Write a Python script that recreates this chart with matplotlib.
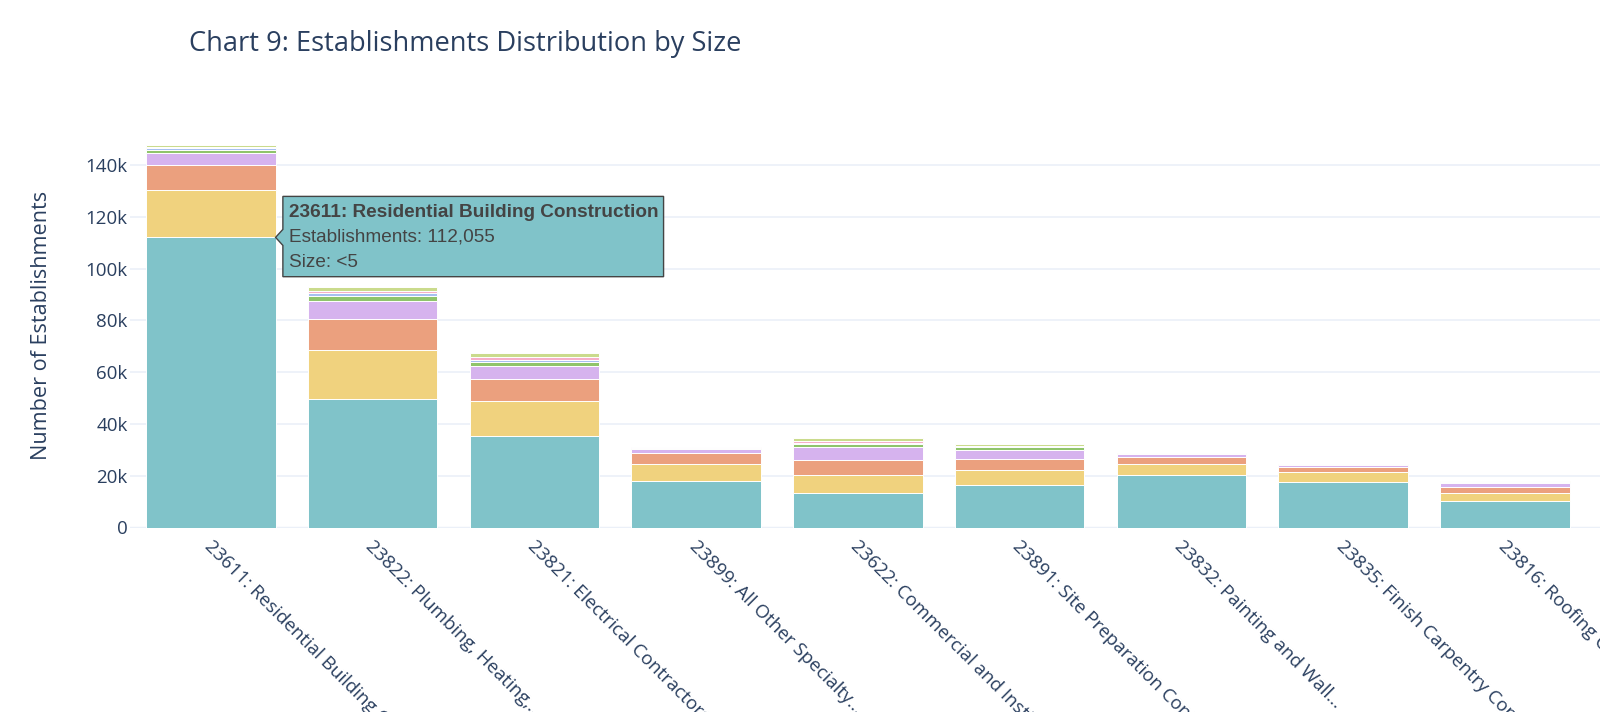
import numpy as np
import matplotlib.pyplot as plt
from matplotlib.patches import Polygon
from matplotlib.transforms import IdentityTransform, ScaledTranslation

# Dados (milhares de estabelecimentos por classe de tamanho)
industries = [
    "23611: Residential Building Construction",
    "23822: Plumbing, Heating,...",
    "23821: Electrical Contractors...",
    "23899: All Other Specialty...",
    "23622: Commercial and Institutional...",
    "23891: Site Preparation Contractors",
    "23832: Painting and Wall...",
    "23835: Finish Carpentry Contractors",
    "23816: Roofing Contractors",
]
sizes = ["<5", "5-9", "10-19", "20-49", "50-99", "100-249", "250-499", "500+"]

size_lt5 = [112.055, 49.5, 35.4, 18.1, 13.3, 16.4, 20.1, 17.4, 10.2]
size_5_9 = [18.4, 19.2, 13.5, 6.4, 7.1, 5.9, 4.6, 4.0, 3.0]
size_10_19 = [9.6, 11.9, 8.3, 4.1, 5.8, 4.3, 2.6, 2.0, 2.6]
size_20_49 = [4.5, 7.0, 5.2, 1.8, 4.8, 3.5, 0.9, 0.9, 1.2]
size_50_99 = [1.3, 2.0, 1.6, 0.3, 1.2, 0.9, 0.15, 0.1, 0.3]
size_100_249 = [0.6, 1.0, 0.8, 0.15, 0.6, 0.3, 0.1, 0.05, 0.2]
size_250_499 = [0.6, 0.7, 1.1, 0.1, 0.8, 0.3, 0.1, 0.05, 0.2]
size_500p = [0.8, 1.6, 1.4, 0.2, 1.0, 0.5, 0.1, 0.15, 0.4]

series = [size_lt5, size_5_9, size_10_19, size_20_49,
          size_50_99, size_100_249, size_250_499, size_500p]
colors = ["#80C3C9", "#F0D27E", "#EBA07E", "#D6B3EE",
          "#8FC46B", "#A7C0F0", "#F6AFC8", "#CADB8C"]

text_color = "#2a3f5f"
grid_color = "#EBF0F8"

fig = plt.figure(figsize=(16, 7.12), dpi=100)
ax = fig.add_axes([130 / 1600, (712 - 527.5) / 712, 1470 / 1600, 403.1 / 712])

x = np.arange(len(industries))
bottom = np.zeros(len(industries))
for name, vals, col in zip(sizes, series, colors):
    vals = np.array(vals)
    ax.bar(x, vals, width=0.8, bottom=bottom, color=col, edgecolor="white",
           linewidth=0.7, label=name, zorder=2)
    bottom += vals

ax.set_xlim(-0.5, -0.5 + 1470 / 161.75)
ax.set_ylim(0, 155.7)
yt = np.arange(0, 141, 20)
ax.set_yticks(yt)
ax.set_yticklabels(["0"] + [f"{v}k" for v in yt[1:]])
ax.set_xticks(x)
ax.set_xticklabels(industries, rotation=-45, ha="left", va="center",
                   rotation_mode="anchor")

for s in ax.spines.values():
    s.set_visible(False)
ax.tick_params(axis="both", length=0, labelsize=13.5, labelcolor=text_color,
               labelfontfamily="Open Sans")
ax.tick_params(axis="y", pad=1.7)
ax.tick_params(axis="x", pad=6)
# deslocar os rótulos do eixo x um pouco para baixo e para a esquerda
offset = ScaledTranslation(-4 / 100, -8 / 100, fig.dpi_scale_trans)
for lab in ax.xaxis.get_majorticklabels():
    lab.set_transform(lab.get_transform() + offset)
ax.set_axisbelow(True)
ax.grid(axis="y", color=grid_color, linewidth=1.2, zorder=0)
ax.axhline(0, color=grid_color, linewidth=2.5, zorder=1)

fig.text(41.7 / 1600, 1 - 325 / 712, "Number of Establishments", rotation=90,
         ha="center", va="center", fontsize=15.6, color=text_color,
         family="Open Sans")
fig.text(189 / 1600, 1 - 43.5 / 712, "Chart 9: Establishments Distribution by Size",
         ha="left", va="center", fontsize=19.6, color=text_color,
         family="Open Sans")

# Caixa de hover sobre o primeiro segmento
tx, ty = ax.transData.transform((0.4, size_lt5[0]))
box = [(tx, ty), (tx + 7.3, ty + 8), (tx + 7.3, ty + 41), (tx + 388, ty + 41),
       (tx + 388, ty - 39.3), (tx + 7.3, ty - 39.3), (tx + 7.3, ty - 8)]
fig.add_artist(Polygon(box, closed=True, facecolor=colors[0], edgecolor="#444444",
                       linewidth=1, transform=IdentityTransform(), zorder=5))
hover_lines = [
    (f"{industries[0]}", "bold", 25),
    (f"Establishments: {size_lt5[0] * 1000:,.0f}", "normal", 0),
    (f"Size: {sizes[0]}", "normal", -25),
]
for txt, weight, dy in hover_lines:
    fig.text(tx + 13.3, ty + dy, txt, transform=IdentityTransform(),
             ha="left", va="center", fontsize=13.7, color="#444444",
             fontweight=weight, family="Liberation Sans", zorder=6)

fig.savefig("out.png", dpi=100)
